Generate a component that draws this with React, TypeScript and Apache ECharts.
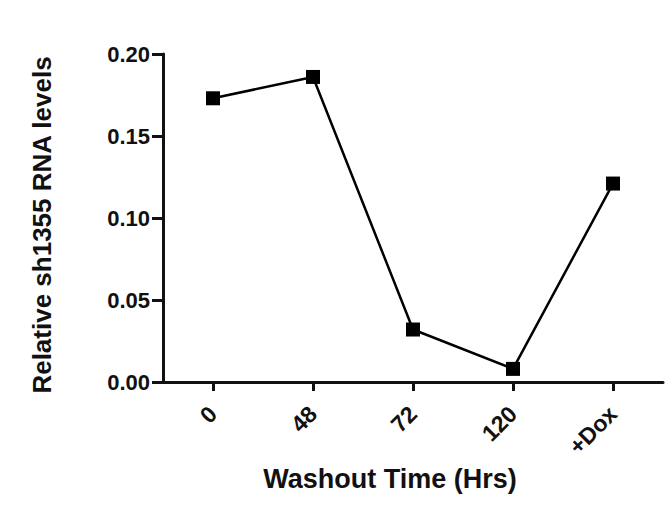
import React, { useEffect, useRef } from "react";
import * as echarts from "echarts";

const categories = ["0", "48", "72", "120", "+Dox"];
const values = [0.173, 0.186, 0.032, 0.008, 0.121];
const yTicks = { min: 0, max: 0.2, interval: 0.05 };
const xTitle = "Washout Time (Hrs)";
const yTitle = "Relative sh1355 RNA levels";

const FONT = "'Liberation Sans', Arial, sans-serif";

export default function App() {
  const ref = useRef<HTMLDivElement>(null);
  useEffect(() => {
    document.body.style.margin = "0";
    const chart = echarts.init(ref.current!, undefined, { renderer: "svg" });
    chart.setOption({
      animation: false,
      backgroundColor: "#ffffff",
      grid: { left: 163, right: 2, top: 54, bottom: 131, containLabel: false },
      xAxis: {
        type: "category",
        data: categories,
        boundaryGap: true,
        name: xTitle,
        nameLocation: "middle",
        nameGap: 82,
        nameTextStyle: {
          fontFamily: FONT,
          fontWeight: "bold",
          fontSize: 27,
          color: "#111",
          padding: [0, 46, 0, 0],
        },
        axisLine: { lineStyle: { color: "#111", width: 3 } },
        axisTick: { show: true, alignWithLabel: true, length: 9, lineStyle: { color: "#111", width: 3 } },
        axisLabel: {
          rotate: 45,
          margin: 28,
          fontFamily: FONT,
          fontWeight: "bold",
          fontSize: 23,
          color: "#111",
        },
        splitLine: { show: false },
      },
      yAxis: {
        type: "value",
        min: yTicks.min,
        max: yTicks.max,
        interval: yTicks.interval,
        name: yTitle,
        nameLocation: "middle",
        nameGap: 108,
        nameRotate: 90,
        nameTextStyle: {
          fontFamily: FONT,
          fontWeight: "bold",
          fontSize: 26,
          color: "#111",
          padding: [0, 14, 0, 0],
        },
        axisLine: { show: true, lineStyle: { color: "#111", width: 3 } },
        axisTick: { show: true, length: 11, lineStyle: { color: "#111", width: 3 } },
        axisLabel: {
          margin: 13,
          fontFamily: FONT,
          fontWeight: "bold",
          fontSize: 22,
          color: "#111",
          formatter: (v: number) => v.toFixed(2),
        },
        splitLine: { show: false },
      },
      series: [
        {
          type: "line",
          data: values,
          symbol: "rect",
          symbolSize: 14,
          itemStyle: { color: "#000" },
          lineStyle: { color: "#000", width: 2.5 },
        },
      ],
    });
    return () => chart.dispose();
  }, []);
  return <div ref={ref} style={{ position: "fixed", left: 0, top: 0, width: 665, height: 513 }} />;
}
